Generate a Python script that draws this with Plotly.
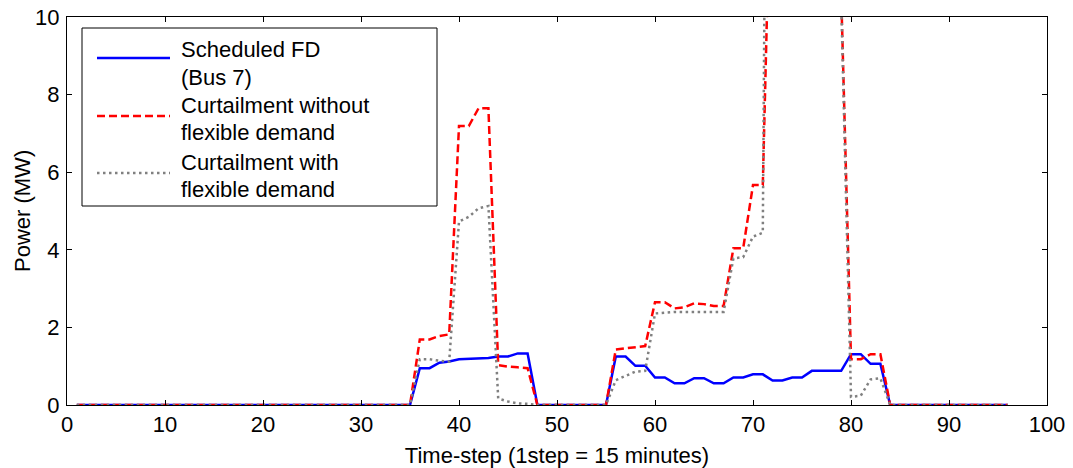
import plotly.graph_objects as go

steps = list(range(1, 97))

def series(vals):
    out = [0.0] * 96
    for k, v in vals.items():
        out[k - 1] = v
    return out

scheduled_fd = series({
    36: 0.95, 37: 0.95, 38: 1.09, 39: 1.12, 40: 1.18, 41: 1.19, 42: 1.21, 43: 1.21,
    44: 1.25, 45: 1.25, 46: 1.33, 47: 1.33,
    56: 1.25, 57: 1.25, 58: 1.01, 59: 1.01, 60: 0.71, 61: 0.71, 62: 0.56, 63: 0.56,
    64: 0.69, 65: 0.69, 66: 0.56, 67: 0.56, 68: 0.71, 69: 0.71, 70: 0.79, 71: 0.79,
    72: 0.63, 73: 0.63, 74: 0.71, 75: 0.71, 76: 0.88, 77: 0.88, 78: 0.88, 79: 0.88,
    80: 1.31, 81: 1.31, 82: 1.06, 83: 1.06,
})

curtail_without = series({
    36: 1.69, 37: 1.69, 38: 1.78, 39: 1.82, 40: 7.19, 41: 7.19, 42: 7.65, 43: 7.65,
    44: 1.03, 45: 0.99, 46: 0.97, 47: 0.95,
    56: 1.43, 57: 1.46, 58: 1.49, 59: 1.52, 60: 2.65, 61: 2.65, 62: 2.49, 63: 2.52,
    64: 2.62, 65: 2.60, 66: 2.55, 67: 2.55, 68: 4.04, 69: 4.04, 70: 5.67, 71: 5.67,
    72: 16.0, 73: 18.0, 74: 20.0, 75: 22.0, 76: 22.0, 77: 20.0, 78: 16.0, 79: 10.6,
    80: 1.18, 81: 1.18, 82: 1.31, 83: 1.31,
})

curtail_with = series({
    36: 1.18, 37: 1.18, 38: 1.14, 39: 1.12, 40: 4.73, 41: 4.85, 42: 5.07, 43: 5.13,
    44: 0.17, 45: 0.09, 46: 0.04, 47: 0.03,
    56: 0.64, 57: 0.75, 58: 0.86, 59: 0.88, 60: 2.36, 61: 2.38, 62: 2.40, 63: 2.40,
    64: 2.40, 65: 2.40, 66: 2.40, 67: 2.40, 68: 3.78, 69: 3.81, 70: 4.34, 71: 4.44,
    72: 40.0, 73: 30.0, 74: 26.0, 75: 24.0, 76: 22.0, 77: 20.0, 78: 16.0, 79: 10.4,
    80: 0.21, 81: 0.24, 82: 0.66, 83: 0.69,
})

legend_lines = [["Scheduled FD", "(Bus 7)"],
                ["Curtailment without", "flexible demand"],
                ["Curtailment with", "flexible demand"]]
x_ticks = list(range(0, 101, 10))
y_ticks = list(range(0, 11, 2))

FONT = "Arial, Liberation Sans, sans-serif"
FS = 22
colors = ["#0000FF", "#FF0000", "#808080"]
dashes = ["solid", "8px,4px", "2.5px,3.5px"]

fig = go.Figure()
for ys, c, d in zip([scheduled_fd, curtail_without, curtail_with], colors, dashes):
    fig.add_trace(go.Scatter(x=steps, y=ys, mode="lines",
                             line=dict(color=c, width=2.5, dash=d),
                             showlegend=False, hoverinfo="skip"))

# plot area in page pixels
L, R, T, B = 67, 1047, 17, 405
def px(x):
    return (x - L) / (R - L)
def py(y):
    return (B - y) / (B - T)

fig.add_shape(type="rect", xref="paper", yref="paper",
              x0=px(82), x1=px(437), y0=py(206), y1=py(28),
              line=dict(color="black", width=1), fillcolor="white", layer="above")
sample_y = [58, 116, 173]
text_y = [(49, 77), (106, 132.5), (162.5, 189)]
for i in range(3):
    fig.add_shape(type="line", xref="paper", yref="paper",
                  x0=px(97), x1=px(170), y0=py(sample_y[i]), y1=py(sample_y[i]),
                  line=dict(color=colors[i], width=2.5, dash=dashes[i]), layer="above")
    for j in range(2):
        fig.add_annotation(xref="paper", yref="paper", x=px(179), y=py(text_y[i][j]),
                           text=legend_lines[i][j], showarrow=False,
                           xanchor="left", yanchor="middle",
                           font=dict(family=FONT, size=FS, color="black"))

# y-axis title as rotated annotation
fig.add_annotation(xref="paper", yref="paper", x=px(22), y=0.5, text="Power (MW)",
                   textangle=-90, showarrow=False, xanchor="center", yanchor="middle",
                   font=dict(family=FONT, size=FS, color="black"))

axis_common = dict(showline=True, linecolor="black", linewidth=1, mirror="ticks",
                   ticks="inside", ticklen=5, tickcolor="black", tickwidth=1,
                   showgrid=False, zeroline=False,
                   tickfont=dict(family=FONT, size=FS, color="black"))

fig.update_xaxes(range=[0, 100], tickvals=x_ticks, **axis_common,
                 title=dict(text="Time-step (1step = 15 minutes)",
                            font=dict(family=FONT, size=FS, color="black"), standoff=11))
fig.update_yaxes(range=[0, 10], tickvals=y_ticks, ticklabelstandoff=2, **axis_common)

W, H = 1073, 468
fig.update_layout(width=W, height=H,
                  margin=dict(l=L, r=W - R, t=T, b=H - B, autoexpand=False),
                  plot_bgcolor="white", paper_bgcolor="white",
                  font=dict(family=FONT))

fig.write_html("out.html", config={"displayModeBar": False, "staticPlot": True},
               post_script="document.body.style.margin='0';document.body.style.overflow='hidden';")
